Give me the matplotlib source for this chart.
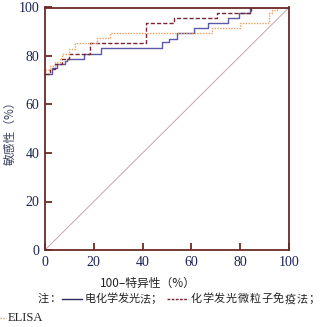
import matplotlib
matplotlib.use("Agg")
import matplotlib.pyplot as plt
from matplotlib.lines import Line2D

# Data (step curves: x = 100-specificity %, y = sensitivity %)
ecl_x = [0, 3, 5, 8, 9, 16, 23, 48, 51, 54, 61, 67, 75, 79.5, 84, 100]
ecl_y = [72.6, 75, 76.5, 77.8, 78.6, 81, 83.3, 85.6, 87, 89.3, 91.4, 93.5, 95.5, 97.6, 100, 100]

cmia_x = [0, 2, 4, 7, 10, 18.5, 41.3, 52.7, 70.5, 84.5, 100]
cmia_y = [72.6, 74.5, 76.5, 78.6, 81, 85.2, 93.5, 95.5, 97.8, 100, 100]

elisa_x = [0, 2, 4, 6, 7, 10, 12.4, 21.3, 26.8, 68.5, 80, 91.8, 93, 95, 100]
elisa_y = [74.2, 76, 77.5, 79, 81, 83, 85.5, 87.3, 89.3, 91.5, 93.5, 97.6, 99, 100, 100]

ticks = [0, 20, 40, 60, 80, 100]

W, H = 324, 327
fig = plt.figure(figsize=(W / 100, H / 100), dpi=100)
ax = fig.add_axes([45 / W, 1 - 250 / H, 244 / W, 242.5 / H])

spine_c = "#6b2b25"
tick_c = "#1c2452"

ax.plot([0, 100], [0, 100], color="#c4a4ac", lw=0.7)
ax.step(ecl_x, ecl_y, where="post", color="#5a5aa8", lw=1.0)
ax.step(cmia_x, cmia_y, where="post", color="#7b2535", lw=1.0, dashes=(3, 1.5))
ax.step(elisa_x, elisa_y, where="post", color="#e8a060", lw=1.0, dashes=(1, 1))

ax.set_xlim(0, 100)
ax.set_ylim(0, 100)
ax.set_xticks(ticks)
ax.set_yticks(ticks)
for s in ax.spines.values():
    s.set_color(spine_c)
    s.set_linewidth(1.3)
ax.tick_params(direction="in", length=5, width=1.3, color=spine_c,
               labelcolor=tick_c, labelsize=10, pad=4)
for lab in ax.get_xticklabels() + ax.get_yticklabels():
    lab.set_family("Liberation Serif")

cjk = ["Noto Sans CJK SC", "DejaVu Sans"]
fig.text(10 / W, 1 - 130 / H, "敏感性（%）", family=cjk, fontsize=8.5,
         color="#3a4060", rotation=90, ha="center", va="center")

fig.text(148 / W, 1 - 283 / H, "100–特异性（%）", family=cjk, fontsize=8.5,
         color="#222222", ha="center", va="center")


def spread(text, x0, x1, y, **kw):
    n = len(text)
    step = (x1 - x0) / n
    for i, ch in enumerate(text):
        fig.text((x0 + step * (i + 0.5)) / W, y, ch, ha="center", va="center", **kw)


note_y = 1 - 299 / H
note_kw = dict(family=cjk, fontsize=8, color="#222222")
spread("注：", 37, 60, note_y, **note_kw)
fig.add_artist(Line2D([62 / W, 82 / W], [note_y, note_y], color="#2a2a60", lw=1.0))
spread("电化学发光法；", 85, 161, note_y, **note_kw)
fig.add_artist(Line2D([167 / W, 188 / W], [note_y, note_y], color="#7b2535", lw=1.0, dashes=(2, 1)))
spread("化学发光微粒子免疫法；", 190, 320, note_y, **note_kw)

e_y = 1 - 318 / H
fig.add_artist(Line2D([0 / W, 6 / W], [e_y, e_y], color="#e8a060", lw=1.0, dashes=(1, 1)))
fig.text(8 / W, e_y, "ELISA", family="Liberation Serif", fontsize=9, color="#222222", va="center")

fig.savefig("out.png", dpi=100)
